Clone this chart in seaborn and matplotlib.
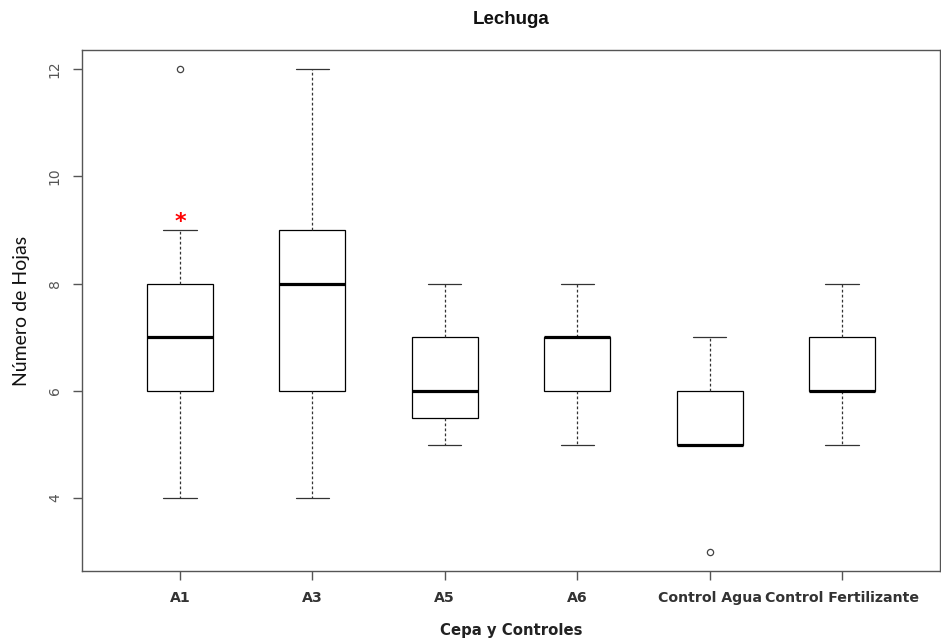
import pandas as pd
import seaborn as sns
import matplotlib.pyplot as plt

# Number of leaves per plant
groups = ["A1", "A3", "A5", "A6", "Control Agua", "Control Fertilizante"]
a1 = [4, 5, 6, 7, 7, 7, 8, 9, 12]
a3 = [4, 5, 6, 7, 8, 8, 9, 10, 12]
a5 = [5, 5, 6, 6, 7, 7, 8]
a6 = [5, 6, 6, 7, 7, 7, 7, 8, 8]
control_agua = [3, 5, 5, 5, 5, 6, 6, 7, 7]
control_fert = [5, 6, 6, 6, 6, 7, 7, 8, 8]
y_ticks = [4, 6, 8, 10, 12]
star_group = "A1"
star_value = 9.15

values = [a1, a3, a5, a6, control_agua, control_fert]
data = pd.DataFrame({
    "grupo": [g for g, v in zip(groups, values) for _ in v],
    "hojas": [x for v in values for x in v],
})

sns.set_theme(style="white")
plt.rcParams["font.family"] = ["DejaVu Sans"]

fig = plt.figure(figsize=(9.41, 6.4), dpi=100)
ax = fig.add_axes([82 / 941, 69 / 640, 858 / 941, 521 / 640])

sns.boxplot(x="grupo", y="hojas", data=data, order=groups, width=0.5,
            color="white", linecolor="black", saturation=1, whis=1.5,
            boxprops={"linewidth": 0.9},
            medianprops={"linewidth": 2.3, "color": "black"},
            whiskerprops={"linewidth": 0.9, "linestyle": (0, (2.2, 1.8)),
                          "color": "#333333"},
            capprops={"linewidth": 0.9, "color": "#333333"},
            flierprops={"marker": "o", "markerfacecolor": "none",
                        "markeredgecolor": "#444444", "markersize": 4.5,
                        "markeredgewidth": 0.9},
            ax=ax)

ax.text(groups.index(star_group), star_value, "*", color="red",
        fontsize=16, fontweight="bold", ha="center", va="center")

ax.set_xlim(-0.74, 5.74)
ax.set_ylim(2.64, 12.36)
ax.set_yticks(y_ticks)
ax.set_yticklabels([str(t) for t in y_ticks], rotation=90, va="center",
                   fontsize=10, color="#555555")
ax.set_xticks(range(len(groups)))
ax.set_xticklabels(groups, fontsize=10.2, fontweight="bold", color="#333333")
ax.tick_params(axis="both", direction="out", length=6.5, width=1,
               color="#555555", pad=8, left=True, bottom=True)
for spine in ax.spines.values():
    spine.set_color("#555555")
    spine.set_linewidth(1)

ax.set_xlabel("Cepa y Controles", fontsize=10.7, fontweight="bold",
              color="#222222", labelpad=13)
ax.set_ylabel("Número de Hojas", fontsize=14, family="Lato",
              color="#111111", labelpad=13)
fig.text(511 / 941, 1 - 19 / 640, "Lechuga", ha="center", va="center",
         fontsize=13.5, fontweight="bold", family="Liberation Sans",
         color="#111111")

fig.savefig("out.png", dpi=100)
